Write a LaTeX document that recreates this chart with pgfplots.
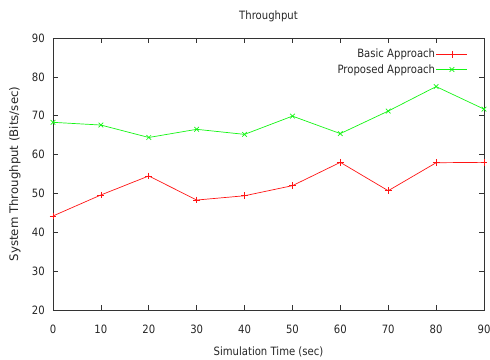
\documentclass[border=0pt]{standalone}
\usepackage{fontspec}
\setmainfont{DejaVu Sans}
\newfontfamily\xfont[FakeStretch=0.88]{DejaVu Sans}
\usepackage{pgfplots}
\pgfplotsset{compat=1.18}
\definecolor{gpgreen}{RGB}{20,245,20}
\definecolor{gpred}{RGB}{255,20,20}
\begin{document}
\begin{tikzpicture}
\path[use as bounding box] (-53bp,-50bp) rectangle (437bp,310bp);
\begin{axis}[
  at={(0,0)}, anchor=south west,
  scale only axis, width=431bp, height=272bp,
  xmin=0, xmax=90, ymin=20, ymax=90,
  xtick={0,10,...,90}, ytick={20,30,...,90},
  tick align=inside, major tick length=5bp,
  tick style={black!80, line width=0.6pt},
  axis line style={black!80, line width=0.7pt},
  /pgf/number format/assume math mode=true,
  ticklabel style={font=\xfont\fontsize{11.5}{13}\selectfont, text=black!85, inner sep=0pt},
  xticklabel style={anchor=base, yshift=-23bp},
  yticklabel style={anchor=east, xshift=-8bp},
  title style={font=\xfont\fontsize{11.5}{13}\selectfont, text=black!85,
    at={(axis description cs:0.5,1)}, anchor=center, yshift=16bp},
  title={Throughput},
  xlabel={Simulation Time (sec)},
  ylabel={System Throughput (Bits/sec)},
  xlabel style={font=\xfont\fontsize{11.5}{13}\selectfont, text=black!85,
    at={(axis description cs:0.5,0)}, anchor=center, yshift=-42bp},
  ylabel style={font=\fontsize{11.8}{13}\selectfont, text=black!85,
    at={(axis description cs:0,0.5)}, anchor=center, yshift=38bp},
  legend style={draw=none, fill=none, at={(rel axis cs:1,1)}, anchor=north east,
    xshift=-13bp, yshift=-8bp,
    font=\xfont\fontsize{11.5}{13}\selectfont, row sep=3bp, text=black!85,
    nodes={inner sep=1bp}},
  legend cell align=right,
  legend plot pos=right,
  legend image code/.code={\draw[#1] (0bp,0bp) -- (31bp,0bp) plot coordinates {(15.5bp,0bp)};},
]
\addplot[gpred, line width=0.7pt, mark=+, mark size=3.4bp, mark options={line width=0.7pt}] coordinates {
(0,44.2) (10,49.6) (20,54.5) (30,48.3) (40,49.4) (50,52.0) (60,58.0) (70,50.7) (80,57.9) (90,58.0)};
\addlegendentry{Basic Approach}
\addplot[gpgreen, line width=0.7pt, mark=x, mark size=3.3bp, mark options={line width=0.7pt}] coordinates {
(0,68.3) (10,67.6) (20,64.4) (30,66.5) (40,65.2) (50,69.9) (60,65.4) (70,71.2) (80,77.5) (90,71.7)};
\addlegendentry{Proposed Approach}
\end{axis}
\end{tikzpicture}
\end{document}
